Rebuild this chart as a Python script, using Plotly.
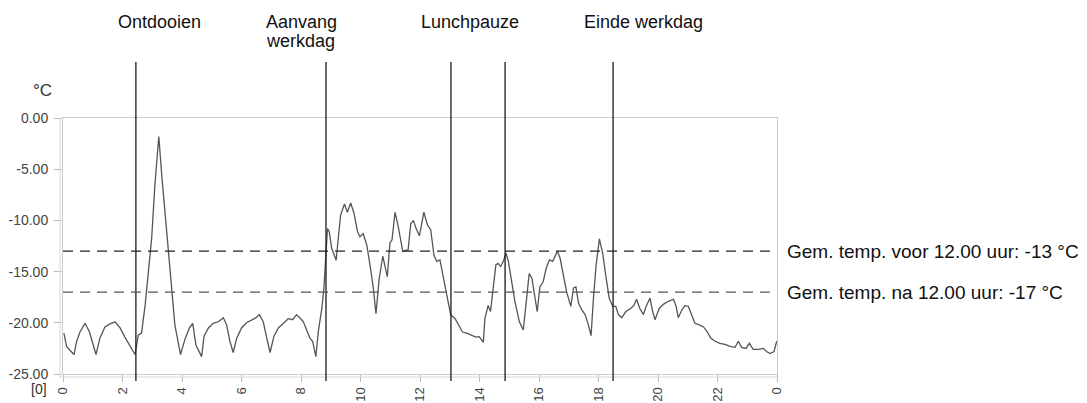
import plotly.graph_objects as go

hours = [0.03,0.12,0.24,0.37,0.46,0.57,0.74,0.89,1.11,1.24,1.41,1.58,1.75,1.92,2.08,2.25,2.42,2.53,2.64,2.76,2.87,2.98,3.09,3.22,3.32,3.46,3.60,3.76,3.95,4.10,4.25,4.36,4.47,4.58,4.66,4.74,4.89,5.05,5.22,5.39,5.50,5.61,5.72,5.84,6.00,6.17,6.34,6.49,6.60,6.73,6.85,6.96,7.09,7.24,7.41,7.57,7.72,7.85,7.99,8.08,8.19,8.30,8.39,8.50,8.58,8.70,8.77,8.84,8.89,8.95,9.03,9.18,9.25,9.33,9.46,9.56,9.67,9.78,9.90,9.98,10.09,10.21,10.32,10.43,10.52,10.63,10.75,10.82,10.90,10.99,11.06,11.16,11.27,11.42,11.53,11.60,11.69,11.78,11.87,11.98,12.06,12.13,12.25,12.36,12.47,12.56,12.67,12.76,12.84,12.92,13.03,13.18,13.29,13.43,13.57,13.74,13.88,13.99,14.10,14.13,14.18,14.29,14.37,14.46,14.55,14.62,14.71,14.80,14.89,14.97,15.08,15.19,15.34,15.47,15.56,15.67,15.76,15.87,15.94,16.03,16.14,16.24,16.35,16.46,16.54,16.62,16.71,16.82,16.93,17.07,17.16,17.24,17.33,17.44,17.55,17.66,17.75,17.83,17.92,18.03,18.14,18.25,18.36,18.48,18.58,18.67,18.78,18.92,19.08,19.19,19.28,19.39,19.51,19.60,19.73,19.82,19.90,20.04,20.18,20.35,20.52,20.61,20.68,20.80,20.91,21.02,21.13,21.24,21.39,21.53,21.66,21.77,21.92,22.08,22.25,22.42,22.59,22.70,22.81,22.96,23.07,23.20,23.37,23.54,23.65,23.76,23.90,23.99]
temps = [-21.0,-22.3,-22.7,-23.1,-21.8,-20.9,-20.05,-20.9,-23.1,-21.5,-20.4,-20.1,-19.9,-20.5,-21.4,-22.3,-23.1,-21.2,-21.0,-18.3,-15.3,-11.75,-6.5,-1.8,-5.6,-10.45,-15.3,-20.2,-23.1,-21.6,-20.5,-20.05,-22.2,-22.9,-23.3,-21.3,-20.5,-20.05,-19.9,-19.5,-20.2,-21.8,-22.9,-21.5,-20.5,-20.0,-19.7,-19.5,-19.2,-19.9,-21.5,-22.9,-21.3,-20.5,-20.05,-19.6,-19.7,-19.2,-19.6,-19.9,-20.7,-21.5,-21.8,-23.3,-20.9,-18.6,-16.6,-13.05,-10.8,-11.1,-12.7,-13.9,-11.9,-9.5,-8.4,-9.2,-8.3,-9.3,-11.1,-11.6,-11.3,-12.4,-14.35,-16.6,-19.1,-15.65,-13.5,-14.35,-15.5,-12.2,-11.9,-9.2,-10.6,-13.05,-12.9,-12.9,-10.3,-10.0,-10.8,-11.5,-10.3,-9.2,-10.45,-10.9,-13.4,-14.0,-13.85,-15.2,-16.1,-17.3,-19.2,-19.6,-20.2,-20.9,-21.0,-21.25,-21.4,-21.35,-21.8,-21.9,-19.6,-18.3,-18.9,-16.8,-14.35,-14.2,-14.5,-14.0,-13.2,-14.0,-16.0,-17.9,-19.9,-20.7,-18.3,-15.2,-15.65,-17.6,-18.9,-16.5,-16.0,-14.7,-13.85,-14.0,-13.4,-13.0,-13.7,-15.3,-17.0,-18.4,-16.6,-16.5,-18.1,-18.75,-19.2,-20.2,-21.25,-17.6,-14.35,-11.8,-13.2,-15.5,-17.6,-18.4,-18.4,-19.2,-19.5,-18.9,-18.6,-18.3,-17.7,-18.6,-19.2,-18.4,-17.6,-18.9,-19.7,-18.6,-18.2,-17.9,-17.7,-18.4,-19.5,-18.75,-18.3,-18.4,-19.2,-20.05,-20.2,-20.4,-20.9,-21.5,-21.8,-22.0,-22.1,-22.3,-22.4,-21.8,-22.4,-22.5,-22.0,-22.6,-22.6,-22.5,-22.8,-23.0,-22.8,-21.8]

event_hours = [2.45, 8.84, 13.04, 14.86, 18.49]
# top labels: (text, hour position, anchor, pixel row)
top_texts = ["Ontdooien", "Aanvang", "werkdag", "Lunchpauze", "Einde werkdag"]
top_hours = [3.25, 6.76, 6.76, 13.68, 19.5]
top_anchor = ["center", "left", "left", "center", "center"]
top_rows = [22, 22, 41, 22, 22]

avg_values = [-13, -17]
avg_labels = ["Gem. temp. voor 12.00 uur: -13 °C", "Gem. temp. na 12.00 uur: -17 °C"]
avg_colors = ["#222222", "#555555"]

x_tickvals = [0, 2, 4, 6, 8, 10, 12, 14, 16, 18, 20, 22, 24]
x_ticktext = ["0", "2", "4", "6", "8", "10", "12", "14", "16", "18", "20", "22", "0"]
y_tickvals = [0, -5, -10, -15, -20, -25]
y_ticktext = ["0.00", "-5.00", "-10.00", "-15.00", "-20.00", "-25.00"]

FONT = "Liberation Sans, Arial, Helvetica, sans-serif"

# page geometry (the page body has an 8px margin)
OFF = 8
PX_L, PX_T, PX_R, PX_B = 63, 118, 777, 374
W, H = 1087 - OFF, 403 - OFF
L, T = PX_L - OFF, PX_T - OFF
R = W - L - (PX_R - PX_L)
B = H - T - (PX_B - PX_T)
pw, ph = PX_R - PX_L, PX_B - PX_T

def px_x(X):
    return (X - PX_L) / pw

def px_y(Y):
    return (PX_B - Y) / ph

fig = go.Figure()
fig.add_trace(go.Scatter(x=hours, y=temps, mode="lines",
                         line=dict(color="#555555", width=1.3), hoverinfo="skip"))

shapes = []
# secondary axis lines (light gray) just outside the plot frame
shapes.append(dict(type="line", xref="paper", yref="paper", x0=px_x(60), x1=px_x(60),
                   y0=px_y(378), y1=px_y(118), line=dict(color="#d8d8d8", width=1)))
shapes.append(dict(type="line", xref="paper", yref="paper", x0=px_x(60), x1=px_x(777),
                   y0=px_y(377), y1=px_y(377), line=dict(color="#d8d8d8", width=1)))
for h in event_hours:
    shapes.append(dict(type="line", xref="x", yref="paper", x0=h, x1=h,
                       y0=px_y(381), y1=px_y(62),
                       line=dict(color="#1a1a1a", width=1.3)))
for v, c in zip(avg_values, avg_colors):
    shapes.append(dict(type="line", xref="x", yref="y", x0=0, x1=23.76, y0=v, y1=v,
                       line=dict(color=c, width=1.2, dash="10px,7px")))

annotations = []
for t, hx, anc, row in zip(top_texts, top_hours, top_anchor, top_rows):
    annotations.append(dict(x=hx, y=px_y(row), xref="x", yref="paper",
                            text=t, showarrow=False, xanchor=anc, yanchor="middle",
                            font=dict(family=FONT, size=18, color="#111")))
for v, lab in zip(avg_values, avg_labels):
    annotations.append(dict(x=1.0, y=v, xref="paper", yref="y", xshift=8,
                            text=lab, showarrow=False, xanchor="left", yanchor="middle",
                            font=dict(family=FONT, size=19, color="#111")))
annotations.append(dict(x=px_x(54), y=px_y(90), xref="paper", yref="paper", text="°C",
                        showarrow=False, xanchor="right", yanchor="middle",
                        font=dict(family=FONT, size=17, color="#333")))
annotations.append(dict(x=px_x(49), y=px_y(389), xref="paper", yref="paper", text="[0]",
                        showarrow=False, xanchor="right", yanchor="middle",
                        font=dict(family=FONT, size=14, color="#333")))

fig.update_layout(
    width=W, height=H,
    margin=dict(l=L, r=R, t=T, b=B, pad=0, autoexpand=False),
    paper_bgcolor="white", plot_bgcolor="white",
    showlegend=False,
    shapes=shapes, annotations=annotations,
    font=dict(family=FONT, color="#333"),
    xaxis=dict(range=[0, 24], tickvals=x_tickvals, ticktext=x_ticktext, tickangle=-90,
               showgrid=False, zeroline=False, showline=True, mirror=True, linecolor="#cccccc",
               ticks="outside", ticklen=7, tickcolor="#bbbbbb", automargin=False,
               tickfont=dict(size=13, color="#444")),
    yaxis=dict(range=[-25, 0], tickvals=y_tickvals, ticktext=y_ticktext,
               showgrid=False, zeroline=False, showline=True, mirror=True, linecolor="#cccccc",
               ticks="outside", ticklen=8, tickcolor="#bbbbbb", automargin=False,
               ticklabelstandoff=3, tickfont=dict(size=14, color="#444")),
)

fig.write_html("out.html")
